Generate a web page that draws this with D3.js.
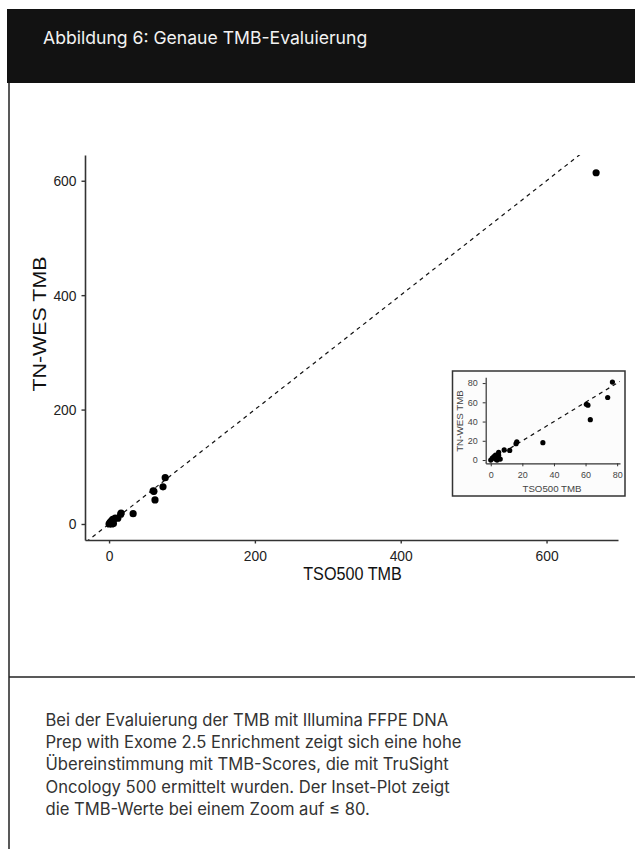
<!DOCTYPE html>
<html>
<head>
<meta charset="utf-8">
<script src="https://cdn.jsdelivr.net/npm/d3@7"></script>
<style>
  html, body { margin: 0; padding: 0; background: #fff; }
  svg { display: block; }
</style>
</head>
<body>
<svg id="chart" width="635" height="849"></svg>
<script>
// ---- data ----
const titleText = "Abbildung 6: Genaue TMB-Evaluierung";
const captionLines = [
  "Bei der Evaluierung der TMB mit Illumina FFPE DNA",
  "Prep with Exome 2.5 Enrichment zeigt sich eine hohe",
  "Übereinstimmung mit TMB-Scores, die mit TruSight",
  "Oncology 500 ermittelt wurden. Der Inset-Plot zeigt",
  "die TMB-Werte bei einem Zoom auf ≤ 80."
];
const xLabel = "TSO500 TMB";
const yLabel = "TN-WES TMB";
const tso500 = [0, 1, 2, 3, 4, 4, 5, 6, 3, 5, 8.5, 12, 16, 16.5, 33, 60.5, 61.5, 63, 74, 77, 668];
const tnwes  = [0, 2, 3.5, 1, 0, 3, 8, 1, 5, 5, 10.5, 10, 17, 19, 18, 58, 57, 42, 65, 81, 614];
const mainTicks = [0, 200, 400, 600];
const insetTicks = [0, 20, 40, 60, 80];
const insetMax = 80;

const points = tso500.map((x, i) => ({x, y: tnwes[i]}));
const insetPoints = points.filter(p => p.x <= insetMax && p.y <= insetMax + 5);

const svg = d3.select("#chart");

// ---- page frame ----
svg.append("rect").attr("x", 7).attr("y", 9).attr("width", 628).attr("height", 74).attr("fill", "#121212");
svg.append("text").attr("x", 43).attr("y", 43.5).attr("fill", "#f2f2f2")
  .attr("font-family", "Inter, 'Noto Sans', sans-serif").attr("font-size", 17.6)
  .text(titleText);
svg.append("line").attr("x1", 9).attr("x2", 9).attr("y1", 83).attr("y2", 849)
  .attr("stroke", "#222").attr("stroke-width", 1.5);
svg.append("line").attr("x1", 9).attr("x2", 635).attr("y1", 677).attr("y2", 677)
  .attr("stroke", "#222").attr("stroke-width", 1.5);

svg.append("g").selectAll("text").data(captionLines).join("text")
  .attr("x", 45.5).attr("y", (d, i) => 726 + i * 22.2)
  .attr("fill", "#333").attr("font-family", "Inter, 'Noto Sans', sans-serif").attr("font-size", 16.6)
  .text(d => d);

// ---- main plot ----
const font = "'Liberation Sans', Arial, Helvetica, sans-serif";
const x = d3.scaleLinear().domain([-33, 698]).range([85, 618]);
const y = d3.scaleLinear().domain([-28, 645]).range([540, 155]);

svg.append("clipPath").attr("id", "mainclip").append("rect")
  .attr("x", 85).attr("y", 155).attr("width", 533).attr("height", 385);

const main = svg.append("g");
main.append("line").attr("clip-path", "url(#mainclip)")
  .attr("x1", x(-40)).attr("y1", y(-40)).attr("x2", x(700)).attr("y2", y(700))
  .attr("stroke", "#111").attr("stroke-width", 1.2).attr("stroke-dasharray", "4,4");
main.append("g").selectAll("circle").data(points).join("circle")
  .attr("cx", d => x(d.x)).attr("cy", d => y(d.y)).attr("r", 3.6).attr("fill", "#000");

const xAxis = main.append("g").attr("transform", "translate(0,540)")
  .call(d3.axisBottom(x).tickValues(mainTicks).tickSizeInner(3.5).tickSizeOuter(0).tickPadding(6.5).tickFormat(d3.format("d")));
const yAxis = main.append("g").attr("transform", "translate(85,0)")
  .call(d3.axisLeft(y).tickValues(mainTicks).tickSizeInner(3.5).tickSizeOuter(0).tickPadding(5).tickFormat(d3.format("d")));
[xAxis, yAxis].forEach(a => {
  a.select(".domain").attr("stroke", "#333").attr("stroke-width", 1.6);
  a.selectAll(".tick line").attr("stroke", "#333").attr("stroke-width", 1.4);
  a.selectAll(".tick text").attr("fill", "#222").attr("font-family", font).attr("font-size", 15.5)
    .attr("textLength", d => String(d).length * 7.7).attr("lengthAdjust", "spacingAndGlyphs");
});
main.append("text").attr("x", 352.5).attr("y", 580).attr("text-anchor", "middle")
  .attr("font-family", font).attr("font-size", 17.5).attr("fill", "#111")
  .attr("textLength", 98.5).attr("lengthAdjust", "spacingAndGlyphs").text(xLabel);
main.append("text").attr("transform", "translate(46,324) rotate(-90)").attr("text-anchor", "middle")
  .attr("font-family", font).attr("font-size", 17.5).attr("fill", "#111")
  .attr("textLength", 135).attr("lengthAdjust", "spacingAndGlyphs").text(yLabel);

// ---- inset ----
const ix = d3.scaleLinear().domain([-3.2, 81.8]).range([485.7, 620]);
const iy = d3.scaleLinear().domain([-3.4, 86]).range([463.3, 377.3]);
const inset = svg.append("g");
inset.append("rect").attr("x", 452.5).attr("y", 371).attr("width", 172.5).attr("height", 125)
  .attr("fill", "#fcfcfc").attr("stroke", "#333").attr("stroke-width", 1.5);
svg.append("clipPath").attr("id", "insetclip").append("rect")
  .attr("x", 485.7).attr("y", 377.3).attr("width", 134.3).attr("height", 86);
inset.append("line").attr("clip-path", "url(#insetclip)")
  .attr("x1", ix(-5)).attr("y1", iy(-5)).attr("x2", ix(90)).attr("y2", iy(90))
  .attr("stroke", "#111").attr("stroke-width", 1.2).attr("stroke-dasharray", "4,4");
inset.append("g").selectAll("circle").data(insetPoints).join("circle")
  .attr("cx", d => ix(d.x)).attr("cy", d => iy(d.y)).attr("r", 2.6).attr("fill", "#000");
const ixAxis = inset.append("g").attr("transform", "translate(0,463.3)")
  .call(d3.axisBottom(ix).tickValues(insetTicks).tickSizeInner(3).tickSizeOuter(0).tickPadding(6));
const iyAxis = inset.append("g").attr("transform", "translate(485.7,0)")
  .call(d3.axisLeft(iy).tickValues(insetTicks).tickSizeInner(3).tickSizeOuter(0).tickPadding(5));
[ixAxis, iyAxis].forEach(a => {
  a.select(".domain").attr("stroke", "#333").attr("stroke-width", 1.2);
  a.selectAll(".tick line").attr("stroke", "#333");
  a.selectAll(".tick text").attr("fill", "#444").attr("font-family", font).attr("font-size", 8.5)
    .attr("textLength", d => String(d).length * 5).attr("lengthAdjust", "spacingAndGlyphs");
});
inset.append("text").attr("x", 552).attr("y", 492).attr("text-anchor", "middle")
  .attr("font-family", font).attr("font-size", 8.5).attr("fill", "#444")
  .attr("textLength", 59).attr("lengthAdjust", "spacingAndGlyphs").text(xLabel);
inset.append("text").attr("transform", "translate(462.7,421) rotate(-90)").attr("text-anchor", "middle")
  .attr("font-family", font).attr("font-size", 8.5).attr("fill", "#444")
  .attr("textLength", 61.7).attr("lengthAdjust", "spacingAndGlyphs").text(yLabel);
</script>
</body>
</html>
